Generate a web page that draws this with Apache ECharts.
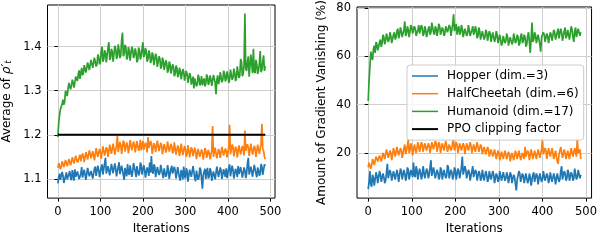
<!DOCTYPE html>
<html><head><meta charset="utf-8">
<script src="https://cdn.jsdelivr.net/npm/echarts@6/dist/echarts.min.js"></script>
<style>html,body{margin:0;padding:0;background:#fff}#c{width:600px;height:240px}</style>
</head><body><div id="c"></div><script>
// ---- data ----
const iterations = [0,2,4,6,8,10,12,14,16,18,20,22,24,26,28,30,32,34,36,38,40,42,44,46,48,
50,52,54,56,58,60,62,64,66,68,70,72,74,76,78,80,82,84,86,88,90,92,94,96,98,
100,102,104,106,108,110,112,114,116,118,120,122,124,126,128,130,132,134,136,138,140,142,144,146,148,
150,152,154,156,158,160,162,164,166,168,170,172,174,176,178,180,182,184,186,188,190,192,194,196,198,
200,202,204,206,208,210,212,214,216,218,220,222,224,226,228,230,232,234,236,238,240,242,244,246,248,
250,252,254,256,258,260,262,264,266,268,270,272,274,276,278,280,282,284,286,288,290,292,294,296,298,
300,302,304,306,308,310,312,314,316,318,320,322,324,326,328,330,332,334,336,338,340,342,344,346,348,
350,352,354,356,358,360,362,364,366,368,370,372,374,376,378,380,382,384,386,388,390,392,394,396,398,
400,402,404,406,408,410,412,414,416,418,420,422,424,426,428,430,432,434,436,438,440,442,444,446,448,
450,452,454,456,458,460,462,464,466,468,470,472,474,476,478,480,482,484,486,488];
const seriesNames = ['Hopper (dim.=3)','HalfCheetah (dim.=6)','Humanoid (dim.=17)','PPO clipping factor'];
const clipFactor = 1.2;
// Average of rho'_t
const hopperRatio = [
1.090,1.104,1.112,1.098,1.095,1.116,1.108,1.091,1.092,1.106,1.115,1.099,1.100,1.111,1.118,1.102,1.097,1.120,1.110,1.096,
1.122,1.105,1.101,1.117,1.113,1.100,1.096,1.112,1.127,1.103,1.104,1.121,1.119,1.098,1.102,1.125,1.124,1.106,1.108,1.118,
1.116,1.101,1.099,1.123,1.128,1.107,1.111,1.130,1.121,1.104,1.105,1.127,1.133,1.110,1.114,1.136,1.148,1.112,1.110,1.129,
1.126,1.108,1.107,1.134,1.131,1.113,1.115,1.135,1.124,1.106,1.103,1.128,1.138,1.111,1.112,1.130,1.129,1.109,1.098,1.125,
1.121,1.106,1.134,1.114,1.109,1.131,1.127,1.105,1.116,1.136,1.140,1.117,1.104,1.129,1.125,1.108,1.113,1.137,1.132,1.110,
1.108,1.131,1.122,1.103,1.101,1.126,1.119,1.107,1.137,1.114,1.152,1.118,1.112,1.133,1.128,1.104,1.106,1.127,1.123,1.109,
1.114,1.132,1.135,1.111,1.102,1.124,1.126,1.105,1.110,1.131,1.121,1.100,1.099,1.123,1.130,1.112,1.109,1.128,1.119,1.101,
1.104,1.127,1.125,1.103,1.096,1.120,1.115,1.099,1.128,1.108,1.101,1.124,1.118,1.094,1.097,1.121,1.122,1.105,1.107,1.129,
1.130,1.102,1.095,1.119,1.116,1.098,1.104,1.126,1.121,1.100,1.078,1.109,1.112,1.123,1.100,1.117,1.125,1.101,1.106,1.124,
1.118,1.096,1.093,1.117,1.114,1.099,1.102,1.128,1.127,1.104,1.108,1.126,1.119,1.100,1.097,1.122,1.113,1.105,1.124,1.102,
1.103,1.125,1.133,1.106,1.110,1.130,1.121,1.101,1.098,1.123,1.117,1.104,1.129,1.111,1.107,1.127,1.123,1.103,1.101,1.126,
1.119,1.102,1.112,1.135,1.148,1.110,1.106,1.128,1.124,1.105,1.109,1.132,1.131,1.112,1.104,1.126,1.120,1.107,1.113,1.134,
1.127,1.109,1.111,1.133,1.130];
const cheetahRatio = [
1.125,1.136,1.133,1.122,1.128,1.140,1.137,1.127,1.130,1.143,1.141,1.129,1.132,1.145,1.139,1.131,1.134,1.149,1.146,1.135,
1.136,1.153,1.150,1.137,1.139,1.148,1.155,1.140,1.143,1.158,1.152,1.138,1.140,1.161,1.158,1.144,1.146,1.165,1.162,1.147,
1.149,1.163,1.155,1.142,1.145,1.170,1.167,1.150,1.152,1.168,1.160,1.146,1.148,1.174,1.171,1.153,1.156,1.172,1.166,1.150,
1.153,1.178,1.175,1.157,1.160,1.180,1.169,1.155,1.158,1.176,1.198,1.161,1.163,1.184,1.177,1.157,1.159,1.187,1.181,1.162,
1.166,1.183,1.174,1.158,1.161,1.188,1.184,1.165,1.168,1.185,1.178,1.160,1.160,1.186,1.182,1.164,1.171,1.189,1.165,1.161,
1.186,1.166,1.163,1.182,1.176,1.160,1.195,1.170,1.167,1.186,1.180,1.157,1.159,1.181,1.175,1.161,1.164,1.187,1.183,1.163,
1.162,1.182,1.177,1.156,1.158,1.179,1.172,1.160,1.166,1.185,1.181,1.162,1.160,1.180,1.174,1.158,1.163,1.183,1.179,1.155,
1.157,1.176,1.171,1.152,1.162,1.180,1.176,1.154,1.155,1.175,1.168,1.150,1.158,1.177,1.173,1.149,1.151,1.172,1.166,1.152,
1.155,1.171,1.163,1.145,1.147,1.168,1.169,1.150,1.152,1.167,1.160,1.144,1.146,1.170,1.165,1.148,1.150,1.166,1.158,1.145,
1.148,1.165,1.220,1.150,1.153,1.171,1.167,1.147,1.149,1.168,1.162,1.148,1.151,1.173,1.170,1.153,1.156,1.169,1.164,1.149,
1.150,1.172,1.223,1.156,1.158,1.178,1.172,1.151,1.155,1.173,1.168,1.149,1.152,1.176,1.174,1.156,1.159,1.175,1.166,1.153,
1.210,1.164,1.160,1.179,1.171,1.152,1.154,1.180,1.177,1.155,1.158,1.175,1.169,1.150,1.152,1.178,1.175,1.157,1.160,1.180,
1.225,1.168,1.163,1.150,1.145];
const humanoidRatio = [
1.195,1.228,1.245,1.258,1.262,1.270,1.280,1.268,1.275,1.300,1.295,1.288,1.305,1.318,1.322,1.303,1.312,1.325,1.318,1.307,
1.310,1.332,1.330,1.322,1.338,1.346,1.327,1.340,1.352,1.335,1.340,1.358,1.355,1.341,1.345,1.364,1.362,1.347,1.350,1.370,
1.368,1.352,1.356,1.375,1.372,1.355,1.360,1.382,1.377,1.360,1.365,1.388,1.400,1.366,1.372,1.392,1.385,1.364,1.368,1.398,
1.410,1.370,1.375,1.395,1.388,1.366,1.370,1.402,1.395,1.372,1.378,1.405,1.392,1.374,1.380,1.415,1.432,1.378,1.384,1.404,
1.398,1.371,1.376,1.399,1.390,1.368,1.372,1.400,1.394,1.374,1.380,1.396,1.386,1.365,1.370,1.398,1.392,1.371,1.378,1.395,
1.410,1.376,1.382,1.397,1.389,1.366,1.372,1.391,1.385,1.363,1.368,1.387,1.380,1.358,1.362,1.384,1.376,1.354,1.358,1.378,
1.372,1.350,1.355,1.375,1.368,1.347,1.350,1.369,1.363,1.341,1.346,1.366,1.360,1.339,1.342,1.360,1.354,1.333,1.338,1.357,
1.352,1.331,1.336,1.352,1.345,1.326,1.330,1.349,1.344,1.323,1.327,1.345,1.338,1.318,1.322,1.340,1.334,1.314,1.318,1.332,
1.305,1.328,1.326,1.310,1.315,1.336,1.330,1.312,1.318,1.333,1.312,1.322,1.328,1.310,1.316,1.337,1.331,1.313,1.320,1.335,
1.326,1.311,1.314,1.336,1.332,1.318,1.292,1.325,1.335,1.315,1.322,1.342,1.338,1.319,1.325,1.345,1.340,1.321,1.327,1.344,
1.336,1.318,1.324,1.348,1.345,1.325,1.330,1.350,1.341,1.322,1.328,1.355,1.352,1.329,1.334,1.372,1.365,1.333,1.338,1.360,
1.475,1.350,1.345,1.365,1.378,1.332,1.335,1.382,1.362,1.340,1.395,1.345,1.340,1.370,1.360,1.338,1.345,1.362,1.390,1.342,
1.348,1.366,1.380,1.345,1.356];
// Amount of gradient vanishing (%)
const hopperVanish = [
5,8,12.5,7,6,11,9.5,6.5,7,12,10.5,7.5,8,12.5,11,8,7.5,11.5,10,7.5,
8.5,12,15.5,9.5,9,13,11.5,8.5,8,12.5,12,9,9.5,13,11,8,8.5,13.5,12.5,9,
9,13,11.5,8.5,10,14,13,9,9.5,13,11.5,10,16,11,10,14.5,13,9,9.5,13.5,
12,9,10.5,14.5,14,9.5,9,13.5,12.5,9.5,11,14,17,10.5,10,14,13.5,9.5,9.5,13,
12,9,10,14,13,9,8.5,13,12.5,9.5,10.5,15,14,9.5,9,13,12,9,10.5,14,
13,9,9.5,13.5,12.5,9.5,10,14,18.5,11,10.5,14.5,13,9.5,9,13,12,8.5,8.5,12.5,
14.5,10,10,13,12,8.5,8,12.5,11.5,8.5,9.5,13,12.5,8.5,8.5,12.5,11,8,9,12.5,
13,9,9.5,12.5,11,7.5,7.5,11.5,10.5,8,9,12.5,12,8.5,8,12,11.5,8.5,9.5,12,
10.5,7.5,8,12,11,7.5,7,11,10,7,4.5,9,9.5,12.5,11.5,8,8,11.5,10.5,7.5,
7.5,11.5,11,7.5,8.5,11.5,10,6.5,7,11,12,8,8.5,11.5,10.5,7,7.5,11.5,11,8,
9,12.5,12.5,8.5,8,11.5,10.5,7.5,9,12,11.5,8,8.5,11.5,10,7,7.5,11.5,11,8,
9,12.5,14.5,9,8.5,12.5,11.5,8.5,9.5,13,12,8.5,8,12,11,8.5,9.5,13.5,13,9,
10,13,12.5,9.5,11];
const cheetahVanish = [
14,16,16.5,13.5,15,17.5,17,15,15.5,18.5,18,16.5,16,19,19.5,16.5,17,20,20.5,17.5,
18,21.5,21,18,18.5,21,20,17,17.5,22,21.5,18.5,19,22.5,22,19,19.5,22,21,18,
18.5,22,23.5,19.5,20,23,25.5,20,21,24,22.5,19,19.5,23.5,23,20,20.5,24.5,24,20.5,
21,24.5,23.5,20.5,20,24,24.5,21,21.5,24,23,20,20.5,24.5,25,21.5,22,25,24,20.5,
21,24.5,23.5,20,20.5,24,24.5,21,21.5,25,23,20.5,20,23.5,24,21,22,24.5,25.5,21,
21.5,24.5,23.5,20,20.5,24,24,21,21,24,23,19.5,20,24,24.5,21,21.5,24.5,23,20,
20.5,23.5,24,20.5,21,24.5,25,20.5,20.5,23.5,22.5,19.5,19.5,22.5,23,19.5,20,22.5,21.5,18.5,
18.5,21.5,22,18.5,19,21.5,21,17.5,17.5,21,20,17,17,20.5,20.5,17.5,18,21,21,17.5,
17.5,20.5,19.5,16.5,16.5,20,20,17,17.5,21,21,17.5,18,21,20.5,17,17,20,19.5,17.5,
22.5,18.5,18,21,20,17,17,21.5,21,17.5,18,21,20.5,17.5,17.5,21.5,21.5,18,18.5,21.5,
26,19.5,19,22,21,17.5,18,22,22.5,18.5,19,22,21.5,17.5,18,21,20.5,16.5,15.5,19.5,
19,22.5,22,18,18.5,21.5,21,17.5,17.5,21,20.5,17.5,18,22,22,18.5,19,22,21.5,18.5,
26,20,19.5,21.5,17.5];
const humanoidVanish = [
41.5,50,56,62,60,58.5,63,64.5,61.5,66,65,62.5,64,66,67,64,65.5,69,68,65,
66.5,69.5,69,66,67,70,68.5,65.5,66,69,70,67,68,70.5,71.5,67.5,69,72,70.5,68,
68,71,74.5,68.5,69.5,72.5,71,68,68.5,73,72,69.5,69,72.5,71.5,68.5,68,71,73,69.5,
70,73,72,68.5,69.5,72.5,71,68,68.5,71.5,72.5,69,70,74,73.5,70,69,72.5,71.5,68.5,
70.5,73.5,72.5,69,68.5,72,71,68.5,69.5,72.5,73,70,70,73,72,68.5,69,73.5,77.5,70.5,
71,73.5,69,71.5,72.5,69,70,73,71.5,68,68.5,71.5,72,68.5,69.5,73,71,68.5,68,71,
72.5,69,70,72.5,71,67.5,68.5,72,70.5,67,67.5,70.5,71,67,68,71,70,66.5,67,70.5,
69.5,66,66.5,70,70,66,67.5,70.5,69,65.5,66,69,68.5,64.5,65.5,68.5,69,65.5,66.5,69.5,
68,64.5,65,68,68.5,65,66,69.5,69,65.5,66.5,69,68,64.5,65.5,68.5,69.5,65.5,66.5,69,
68,64,65,68.5,70,66,61.5,67.5,74,66,67,70,69,65.5,66,69,68.5,65,62,68,
67.5,70,69,66,66.5,69.5,68.5,65.5,66,70,69,66.5,67,71,70,67,67.5,70,71.5,67.5,
68,71.5,70,66.5,67,70.5,72,67.5,68.5,71,70.5,67,67.5,72.5,71,68,66,70.5,72,68,
68.5,71.5,71,68.5,70];
const xTicks = [0,100,200,300,400,500];
const leftYTicks = [1.1,1.2,1.3,1.4];
const rightYTicks = [20,40,60,80];

// ---- chart ----
const FONT = 'DejaVu Sans';
const COLORS = ['#1f77b4','#ff7f0e','#2ca02c','#000000'];
const pairs = arr => iterations.map((x,i)=>[x,arr[i]]);

function xAxisCfg(gi,min,max){
  return {type:'value',gridIndex:gi,min:min,max:max,name:'Iterations',nameLocation:'middle',nameGap:24,
    nameTextStyle:{fontFamily:FONT,fontSize:12,color:'#000'},
    axisLine:{show:false},
    axisTick:{show:true,length:3.5,customValues:xTicks,lineStyle:{color:'#000',width:1}},
    axisLabel:{customValues:xTicks,fontFamily:FONT,fontSize:11.5,color:'#000',margin:8},
    splitLine:{show:true,lineStyle:{color:'#cfcfcf',width:1}}};
}
function yAxisCfg(gi,min,max,ticks,name,gap,fmt,rich){
  return {type:'value',gridIndex:gi,min:min,max:max,name:name,nameLocation:'middle',nameGap:gap,nameRotate:90,
    nameTextStyle:{fontFamily:FONT,fontSize:12,color:'#000',rich:rich},
    axisLine:{show:false},
    axisTick:{show:true,length:3.5,customValues:ticks,lineStyle:{color:'#000',width:1}},
    axisLabel:{customValues:ticks,fontFamily:FONT,fontSize:11.5,color:'#000',margin:6,formatter:fmt},
    splitLine:{show:true,lineStyle:{color:'#cfcfcf',width:1}}};
}
function line(name,gi,data,color,width){
  return {type:'line',name:name,xAxisIndex:gi,yAxisIndex:gi,data:data,symbol:'none',showSymbol:false,
    lineStyle:{color:color,width:width},itemStyle:{color:color},animation:false,z:2};
}

const chart = echarts.init(document.getElementById('c'),null,{renderer:'canvas'});
chart.setOption({
  animation:false,
  textStyle:{fontFamily:FONT},
  grid:[
    {left:47,top:5,width:228,height:197,show:true,borderColor:'#000',borderWidth:1,backgroundColor:'transparent'},
    {left:357,top:5,width:236,height:197,show:true,borderColor:'#000',borderWidth:1,backgroundColor:'transparent'}
  ],
  xAxis:[xAxisCfg(0,-24.4,510.8), xAxisCfg(1,-25.7,512.7)],
  yAxis:[
    yAxisCfg(0,1.0566,1.4944,leftYTicks,'Average of {it|ρ′}{sub|t}',34,v=>v.toFixed(1),
      {it:{fontFamily:FONT,fontSize:12,fontStyle:'italic',color:'#000'},sub:{fontFamily:FONT,fontSize:8.5,fontStyle:'italic',color:'#000',verticalAlign:'bottom',padding:[4,0,0,0]}}),
    yAxisCfg(1,1.3,80.5,rightYTicks,'Amount of Gradient Vanishing (%)',29,v=>String(v),undefined)
  ],
  legend:{
    data:[
      {name:seriesNames[0],icon:'path://M0,0H26V1.5H0Z'},
      {name:seriesNames[1],icon:'path://M0,0H26V1.5H0Z'},
      {name:seriesNames[2],icon:'path://M0,0H26V1.5H0Z'},
      {name:seriesNames[3],icon:'path://M0,0H26V2H0Z'}
    ],
    orient:'vertical', left:407, top:65,
    padding:[4,5,4,5], itemWidth:26, itemHeight:14, itemGap:3.7,
    backgroundColor:'rgba(255,255,255,0.8)', borderColor:'#cccccc', borderWidth:1, borderRadius:3,
    textStyle:{fontFamily:FONT,fontSize:12,color:'#000',lineHeight:14,padding:[0,0,0,4]},
    selectedMode:false
  },
  series:[
    line(seriesNames[0],0,pairs(hopperRatio),COLORS[0],1.7),
    line(seriesNames[1],0,pairs(cheetahRatio),COLORS[1],1.7),
    line(seriesNames[2],0,pairs(humanoidRatio),COLORS[2],1.7),
    line(seriesNames[3],0,[[iterations[0],clipFactor],[iterations[iterations.length-1],clipFactor]],COLORS[3],2),
    line(seriesNames[0],1,pairs(hopperVanish),COLORS[0],1.7),
    line(seriesNames[1],1,pairs(cheetahVanish),COLORS[1],1.7),
    line(seriesNames[2],1,pairs(humanoidVanish),COLORS[2],1.7)
  ]
});
</script></body></html>
